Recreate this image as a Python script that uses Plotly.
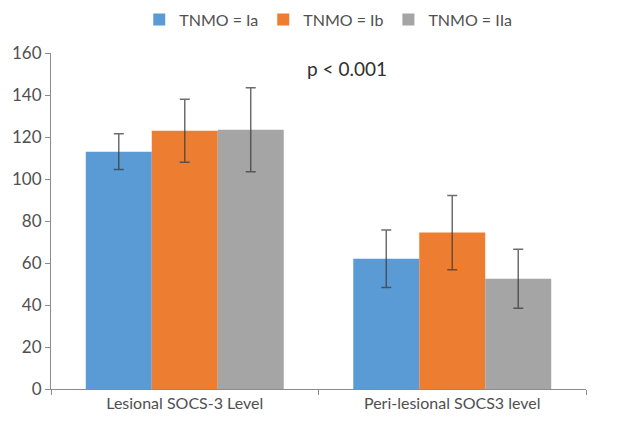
import plotly.graph_objects as go

categories = ["Lesional SOCS-3 Level", "Peri-lesional SOCS3 level"]
series_names = ["TNMO = Ia", "TNMO = Ib", "TNMO = IIa"]
means = [
    [113, 62],
    [123, 74.5],
    [123.5, 52.5],
]
errors = [
    [8.5, 13.7],
    [15, 17.7],
    [20, 14],
]
colors = ["#5b9bd5", "#ed7d31", "#a5a5a5"]
y_ticks = [0, 20, 40, 60, 80, 100, 120, 140, 160]

FONT = "Lato, 'Open Sans', sans-serif"

fig = go.Figure()
for name, vals, errs, col in zip(series_names, means, errors, colors):
    fig.add_trace(go.Bar(
        x=categories, y=vals, name=name,
        marker=dict(color=col, line=dict(width=0)),
        error_y=dict(type="data", array=errs, visible=True,
                     color="rgba(60,60,60,0.75)", thickness=1.5, width=5),
    ))

fig.update_layout(
    width=610, height=417,
    margin=dict(l=43, r=32, t=45, b=36, autoexpand=False),
    paper_bgcolor="white", plot_bgcolor="white",
    barmode="group", bargap=0.26, bargroupgap=0,
    font=dict(family=FONT, size=13, color="#505050"),
    showlegend=True,
    legend=dict(orientation="h", x=0.525, xref="container", xanchor="center",
                y=1.15, yref="paper", yanchor="top",
                font=dict(size=16, color="#505050"), itemwidth=30,
                traceorder="normal"),
    annotations=[dict(text="p < 0.001", x=0.553, xref="paper", y=0.955, yref="paper",
                      showarrow=False, font=dict(size=19, color="#303030"),
                      xanchor="center", yanchor="middle")],
)
fig.update_xaxes(
    showline=True, linecolor="#8c8c8c", linewidth=1, automargin=False,
    ticks="outside", tickson="boundaries", ticklen=5, tickcolor="#8c8c8c",
    showgrid=False, tickfont=dict(size=16, color="#505050"),
)
fig.update_yaxes(
    range=[0, 160], tickvals=y_ticks, automargin=False,
    showline=True, linecolor="#8c8c8c", linewidth=1,
    ticks="outside", ticklen=5, tickcolor="#8c8c8c",
    showgrid=False, zeroline=False, tickfont=dict(size=17, color="#505050"),
)

fig.write_html("out.html")
